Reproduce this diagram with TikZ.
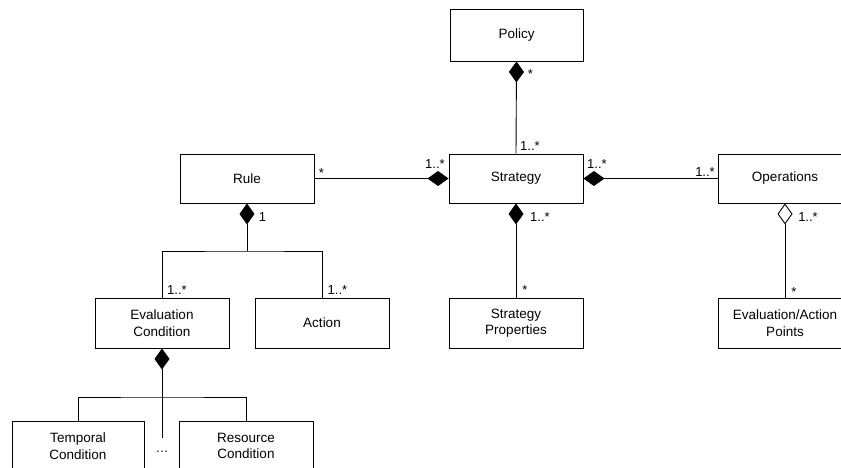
\documentclass[tikz,border=0pt]{standalone}
\usepackage{fontspec}
\setmainfont{Liberation Sans}
\usetikzlibrary{arrows.meta}
\begin{document}
\begin{tikzpicture}[x=1pt,y=-1pt,
 cls/.style={draw=black, line width=0.9pt, minimum width=134pt, minimum height=50pt, inner sep=0pt, align=center, font=\fontsize{13.5}{16.5}\selectfont},
 lbl/.style={anchor=base, inner sep=0pt, font=\fontsize{13}{15}\selectfont},
 conn/.style={line width=0.9pt},
 comp/.style={conn, -{Diamond[length=21pt,width=15pt]}},
 aggr/.style={conn, -{Diamond[open,length=21pt,width=15pt,fill=white]}}
]
\useasboundingbox (0,0) rectangle (841,467);
% classes
\node[cls, minimum width=133pt, minimum height=52pt] (policy) at (516.5,35) {Policy};
\node[cls, minimum height=49pt] (strategy) at (516,178.5) {Strategy};
\node[cls, minimum height=49pt] (rule) at (247,178.5) {Rule};
\node[cls, minimum height=49pt] (ops) at (785,178.5) {Operations};
\node[cls] (evc) at (162,323) {Evaluation\\Condition};
\node[cls] (action) at (322,323) {Action};
\node[cls] (sprop) at (516,323) {Strategy\\Properties};
\node[cls] (eap) at (785,323) {Evaluation/Action\\Points};
\node[cls, minimum width=132pt] (temporal) at (78,446) {Temporal\\Condition};
\node[cls] (resource) at (246,446) {Resource\\Condition};
% connectors
\draw[comp] (strategy.north) -- (policy.south);
\draw[comp] (rule.east) -- (strategy.west);
\draw[comp] (ops.west) -- (strategy.east);
\draw[comp] (sprop.north) -- (strategy.south);
\draw[aggr] (eap.north) -- (ops.south);
\coordinate (rj) at (247,251);
\draw[comp] (rj) -- (rule.south);
\draw[conn] (evc.north) |- (rj) -| (action.north);
\coordinate (ej) at (162,397);
\coordinate (eend) at (162,438);
\draw[comp] (eend) -- (evc.south);
\draw[conn] (temporal.north) |- (ej) -| (resource.north);
% multiplicities
\node[lbl] (m1) at (530.5,78) {*};
\node[lbl] (m2) at (530,150) {1..*};
\node[lbl] (m3) at (321.5,177) {*};
\node[lbl] (m4) at (435,168) {1..*};
\node[lbl] (m5) at (597,168) {1..*};
\node[lbl] (m6) at (705,176) {1..*};
\node[lbl] (m7) at (262.5,221) {1};
\node[lbl] (m8) at (540,221) {1..*};
\node[lbl] (m9) at (808,221) {1..*};
\node[lbl] (m10) at (177,294) {1..*};
\node[lbl] (m11) at (337.5,294) {1..*};
\node[lbl] (m12) at (525,294) {*};
\node[lbl] (m13) at (794,296) {*};
\node[lbl] (dots) at (162,452) {\dots};
\end{tikzpicture}
\end{document}
